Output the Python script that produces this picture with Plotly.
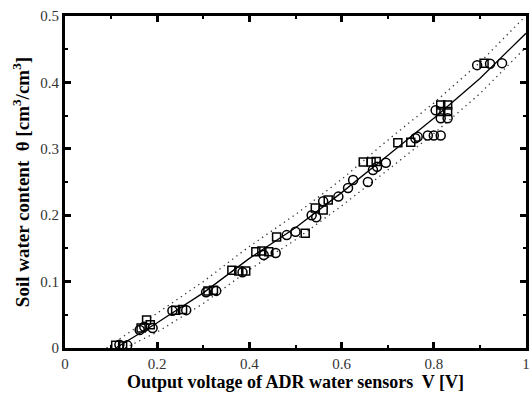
import plotly.graph_objects as go

# Calibration samples: ADR sensor output voltage V [V] vs. soil water content θ [cm³/cm³]
sq_v = [0.110, 0.125, 0.165, 0.177, 0.185, 0.240, 0.255, 0.310, 0.322,
        0.362, 0.377, 0.392, 0.414, 0.427, 0.442, 0.459, 0.521, 0.543,
        0.560, 0.571, 0.647, 0.664, 0.675, 0.722, 0.750, 0.815, 0.830,
        0.815, 0.830, 0.909]
sq_theta = [0.004, 0.003, 0.030, 0.042, 0.035, 0.057, 0.058, 0.086, 0.087,
            0.117, 0.116, 0.116, 0.145, 0.146, 0.145, 0.167, 0.173, 0.211,
            0.208, 0.223, 0.280, 0.280, 0.281, 0.309, 0.310, 0.366, 0.366,
            0.356, 0.356, 0.429]

ci_v = [0.118, 0.135, 0.162, 0.172, 0.190, 0.233, 0.263, 0.306, 0.328,
        0.385, 0.431, 0.457, 0.481, 0.500, 0.535, 0.545, 0.560, 0.593,
        0.614, 0.625, 0.657, 0.668, 0.677, 0.696, 0.760, 0.765, 0.787,
        0.800, 0.815, 0.804, 0.815, 0.830, 0.894, 0.922, 0.948]
ci_theta = [0.005, 0.004, 0.027, 0.032, 0.030, 0.056, 0.057, 0.084, 0.086,
            0.114, 0.140, 0.143, 0.170, 0.175, 0.200, 0.197, 0.221, 0.228,
            0.241, 0.253, 0.250, 0.268, 0.273, 0.279, 0.316, 0.318, 0.320,
            0.320, 0.320, 0.358, 0.346, 0.346, 0.426, 0.428, 0.429]

# Calibration curve and its upper / lower bounds
fit_v = [0.110, 0.200, 0.300, 0.400, 0.500, 0.600, 0.700, 0.800, 0.900, 1.000]
fit_theta = [0.000, 0.038, 0.083, 0.135, 0.181, 0.234, 0.290, 0.346, 0.406, 0.474]

up_v = [0.090, 0.200, 0.300, 0.400, 0.500, 0.600, 0.700, 0.800, 0.900, 0.995]
up_theta = [0.000, 0.053, 0.100, 0.153, 0.201, 0.254, 0.313, 0.369, 0.430, 0.497]

lo_v = [0.130, 0.200, 0.300, 0.400, 0.500, 0.600, 0.700, 0.800, 0.900, 1.000]
lo_theta = [0.000, 0.024, 0.067, 0.118, 0.163, 0.214, 0.268, 0.323, 0.383, 0.453]

x_ticks = [0, 0.2, 0.4, 0.6, 0.8, 1.0]
x_labels = ["0", "0.2", "0.4", "0.6", "0.8", "1"]
y_ticks = [0, 0.1, 0.2, 0.3, 0.4, 0.5]
y_labels = ["0", "0.1", "0.2", "0.3", "0.4", "0.5"]

fig = go.Figure()

for bx, by in ((up_v, up_theta), (lo_v, lo_theta)):
    fig.add_trace(go.Scatter(x=bx, y=by, mode="lines",
                             line=dict(color="#333", width=1.3, dash="1.3px,4px"),
                             showlegend=False, hoverinfo="skip"))
fig.add_trace(go.Scatter(x=fit_v, y=fit_theta, mode="lines",
                         line=dict(color="black", width=1.3),
                         showlegend=False))

fig.add_trace(go.Scatter(x=sq_v, y=sq_theta, mode="markers",
                         marker=dict(symbol="square-open", size=8,
                                     color="black", line=dict(width=1.5)),
                         showlegend=False))
fig.add_trace(go.Scatter(x=ci_v, y=ci_theta, mode="markers",
                         marker=dict(symbol="circle-open", size=9,
                                     color="black", line=dict(width=1.5)),
                         showlegend=False))

axis_common = dict(
    showline=True, linewidth=3, linecolor="black", mirror="allticks",
    ticks="inside", ticklen=6, tickwidth=2.5, tickcolor="black",
    showgrid=False, zeroline=False,
    tickfont=dict(family="Liberation Serif", size=15, color="#333"),
)

fig.update_xaxes(
    range=[0, 1], tickvals=x_ticks, ticktext=x_labels,
    minor=dict(dtick=0.1, ticks="inside", ticklen=3, tickwidth=2,
               tickcolor="black"),
    title=dict(text="<b>Output voltage of ADR water sensors  V [V]</b>",
               font=dict(family="Liberation Serif", size=18, color="black"),
               standoff=2),
    **axis_common,
)
fig.update_yaxes(
    range=[0, 0.5], tickvals=y_ticks, ticktext=y_labels,
    minor=dict(dtick=0.05, ticks="inside", ticklen=3, tickwidth=2,
               tickcolor="black"),
    title=dict(text="<b>Soil water content  θ [cm<sup>3</sup>/cm<sup>3</sup>]</b>",
               font=dict(family="Liberation Serif", size=19, color="black"),
               standoff=6),
    **axis_common,
)

fig.update_layout(
    width=530, height=394,
    margin=dict(l=65, r=1, t=16, b=46),
    paper_bgcolor="white", plot_bgcolor="white",
)

fig.write_html("out.html")
